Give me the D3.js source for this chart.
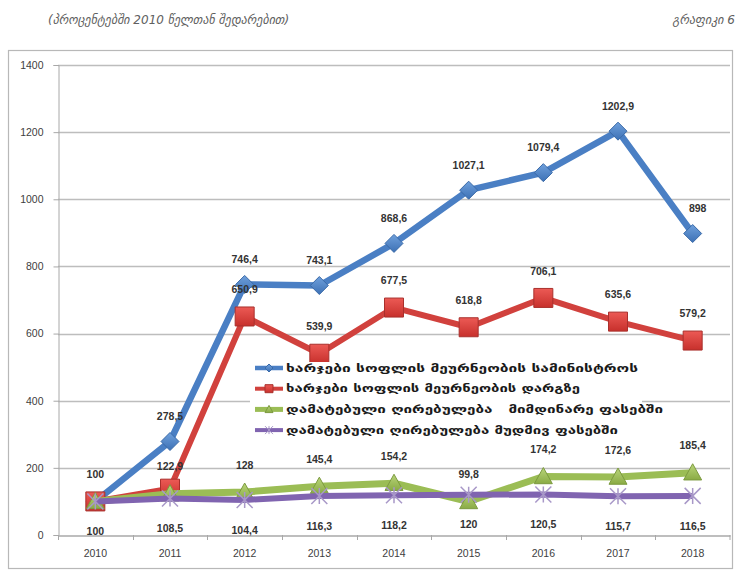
<!DOCTYPE html>
<html><head><meta charset="utf-8">
<script src="https://cdn.jsdelivr.net/npm/d3@7"></script>
<style>body{margin:0;background:#fff}svg{display:block}</style>
</head><body>
<svg id="c" width="740" height="573"></svg>
<script>
const years = ["2010","2011","2012","2013","2014","2015","2016","2017","2018"];
const seriesNames = [
  "ხარჯები სოფლის მეურნეობის სამინისტროს",
  "ხარჯები სოფლის მეურნეობის დარგზე",
  "დამატებული ღირებულება   მიმდინარე ფასებში",
  "დამატებული ღირებულება მუდმივ ფასებში"
];
const blueValues   = [100, 278.5, 746.4, 743.1, 868.6, 1027.1, 1079.4, 1202.9, 898];
const redValues    = [100, 138, 650.9, 539.9, 677.5, 618.8, 706.1, 635.6, 579.2];
const greenValues  = [100, 122.9, 128, 145.4, 154.2, 99.8, 174.2, 172.6, 185.4];
const purpleValues = [100, 108.5, 104.4, 116.3, 118.2, 120, 120.5, 115.7, 116.5];
const yTicks = [0, 200, 400, 600, 800, 1000, 1200, 1400];
const titleText = "(პროცენტებში 2010 წელთან შედარებით)";
const figText = "გრაფიკი 6";

const svg = d3.select("#c");
const geo = "'DejaVu Sans', sans-serif";
const x = d3.scaleBand().domain(years).range([58, 730]);
const y = d3.scaleLinear().domain([0, 1400]).range([535, 65]);
const cx = d => x(d) + x.bandwidth()/2;

// header
svg.append("text").attr("x", 48).attr("y", 24).attr("font-family", geo).attr("font-style","italic")
  .attr("font-size", 12).attr("fill", "#606060").text(titleText);
svg.append("text").attr("x", 735).attr("y", 24).attr("text-anchor","end").attr("font-family", geo).attr("font-style","italic")
  .attr("font-size", 12).attr("fill", "#606060").text(figText);

// chart frame
svg.append("rect").attr("x", 8.5).attr("y", 50.5).attr("width", 724).attr("height", 518)
  .attr("fill", "#fff").attr("stroke", "#b8b8b8").attr("stroke-width", 1.2);

// gridlines
svg.append("g").selectAll("line").data(yTicks.filter(t => t > 0)).join("line")
  .attr("x1", 58).attr("x2", 730).attr("y1", d => Math.round(y(d)) + 0.5).attr("y2", d => Math.round(y(d)) + 0.5)
  .attr("stroke", "#bdbdbd").attr("stroke-width", 1.3);

// y axis
const yAx = svg.append("g").attr("transform", "translate(58.5,0)")
  .call(d3.axisLeft(y).tickValues(yTicks).tickSize(5).tickFormat(d3.format("d")));
yAx.select(".domain").attr("stroke", "#a8a8a8");
yAx.selectAll(".tick line").attr("stroke", "#a8a8a8");
yAx.selectAll("text").attr("font-family", "'Liberation Sans', Arial, sans-serif").attr("font-size", 10.5)
  .attr("fill", "#404040").attr("x", -15);

// x axis
const xAx = svg.append("g").attr("transform", `translate(0,${Math.round(y(0)) + 0.5})`)
  .call(d3.axisBottom(x).tickSize(0));
xAx.select(".domain").attr("stroke", "#a8a8a8").attr("stroke-width", 1.3);
xAx.selectAll("text").attr("font-family", "'Liberation Sans', Arial, sans-serif").attr("font-size", 10.5)
  .attr("fill", "#404040").attr("dy", "1.75em");
svg.append("g").selectAll("line").data(years.concat(["end"])).join("line")
  .attr("x1", d => d === "end" ? 730 : Math.round(x(d)) + 0.5)
  .attr("x2", d => d === "end" ? 730 : Math.round(x(d)) + 0.5)
  .attr("y1", Math.round(y(0))).attr("y2", Math.round(y(0)) + 5).attr("stroke", "#a8a8a8");

// defs gradients
const defs = svg.append("defs");
function grad(id, c1, c2) {
  const g = defs.append("linearGradient").attr("id", id).attr("x1", 0).attr("y1", 0).attr("x2", 0).attr("y2", 1);
  g.append("stop").attr("offset", "0%").attr("stop-color", c1);
  g.append("stop").attr("offset", "100%").attr("stop-color", c2);
}
grad("gb", "#6fa0dc", "#3d71b5");
grad("gr", "#ec5a55", "#c7302c");
grad("gg", "#b9d57a", "#8aab45");
grad("gp", "#a58bc7", "#7355a0");

const series = [
  {vals: blueValues,   color: "#4a7fc4", w: 6.5, sym: "diamond",  fill: "url(#gb)", stroke: "#3a6aa8", off: -25, skip: [0]},
  {vals: redValues,    color: "#d1413d", w: 6,   sym: "square",   fill: "url(#gr)", stroke: "#a9302c", off: -27, skip: [0, 1]},
  {vals: greenValues,  color: "#9bbd55", w: 7,   sym: "triangle", fill: "url(#gg)", stroke: "#7c9a3f", off: -27, skip: []},
  {vals: purpleValues, color: "#8064b0", w: 6,   sym: "x",        fill: "url(#gp)", stroke: "#8064b0", off: 30, skip: []}
];

function markerPath(sym, s) {
  if (sym === "diamond") return `M0,${-s}L${s},0L0,${s}L${-s},0Z`;
  if (sym === "square") return `M${-s},${-s}H${s}V${s}H${-s}Z`;
  if (sym === "triangle") return `M0,${-s}L${s},${s*0.8}L${-s},${s*0.8}Z`;
  return `M${-s},${-s}L${s},${s}M${s},${-s}L${-s},${s}M0,${-s}V${s}`;
}
const sizes = {diamond: 9, square: 9.5, triangle: 9, x: 8};

const line = d3.line().x((d, i) => cx(years[i])).y(d => y(d));
series.forEach(s => {
  const g = svg.append("g");
  g.append("path").datum(s.vals).attr("d", line).attr("fill", "none")
    .attr("stroke", s.color).attr("stroke-width", s.w).attr("stroke-linejoin", "round");
  g.selectAll("path.m").data(s.vals).join("path").attr("class", "m")
    .attr("transform", (d, i) => `translate(${cx(years[i])},${y(d)})`)
    .attr("d", markerPath(s.sym, sizes[s.sym]))
    .attr("fill", s.sym === "x" ? "none" : s.fill)
    .attr("stroke", s.sym === "x" ? "#a898c8" : s.stroke)
    .attr("stroke-width", s.sym === "x" ? 1.5 : 1);
});

// legend
const lg = svg.append("g");
lg.append("rect").attr("x", 250).attr("y", 362).attr("width", 392).attr("height", 78).attr("fill", "#fff");
const lw = [352, 294, 377, 332];
seriesNames.forEach((n, i) => {
  const s = series[i];
  const yy = 368 + i * 20.7;
  lg.append("line").attr("x1", 255).attr("x2", 283).attr("y1", yy).attr("y2", yy)
    .attr("stroke", s.color).attr("stroke-width", s.w - 2);
  lg.append("path").attr("transform", `translate(269,${yy})`).attr("d", markerPath(s.sym, 4))
    .attr("fill", s.sym === "x" ? "none" : s.fill).attr("stroke", s.sym === "x" ? "#a898c8" : s.stroke).attr("stroke-width", 1);
  lg.append("text").attr("x", 286).attr("y", yy).attr("dy", "0.35em")
    .attr("font-family", geo).attr("font-size", 10.5).attr("font-weight", "bold").attr("fill", "#1a1a1a")
    .attr("textLength", lw[i]).attr("lengthAdjust", "spacingAndGlyphs")
    .attr("xml:space", "preserve").style("white-space", "pre").text(n);
});

// data labels
const fmt = v => String(v).replace(".", ",");
series.forEach((s, si) => {
  svg.append("g").selectAll("text").data(s.vals.map((v, i) => ({v, i})).filter(d => !s.skip.includes(d.i))).join("text")
    .attr("x", d => cx(years[d.i]) + (si === 0 && d.i === 8 ? 5 : 0))
    .attr("y", d => y(d.v) + s.off)
    .attr("dy", "0.35em").attr("text-anchor", "middle")
    .attr("font-family", "'Liberation Sans', Arial, sans-serif").attr("font-size", 10.5).attr("font-weight", "bold")
    .attr("fill", "#333").text(d => fmt(d.v));
});
</script>
</body></html>
